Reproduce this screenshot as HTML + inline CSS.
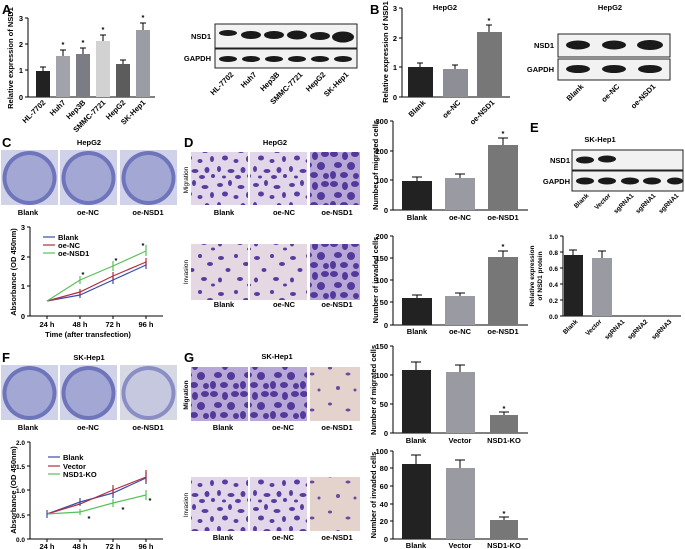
<!DOCTYPE html>
<html><head><meta charset="utf-8"><style>
body{margin:0;background:#fff}
svg{display:block;font-family:"Liberation Sans",sans-serif;font-weight:bold}
.t{font-size:7.5px}
.s{font-size:6.5px}
.L{font-size:13px;font-weight:bold}
.ax{stroke:#000;stroke-width:1;fill:none}
</style></head><body>
<svg width="685" height="549" viewBox="0 0 685 549" xmlns="http://www.w3.org/2000/svg">
<defs>
<pattern id="mig" width="36" height="36" patternUnits="userSpaceOnUse">
<rect width="36" height="36" fill="#e2d6ea"/>
<g fill="#5a3c9e">
<ellipse cx="4" cy="5" rx="3" ry="2"/><ellipse cx="14" cy="3" rx="2" ry="3"/><ellipse cx="25" cy="7" rx="3.5" ry="2"/>
<ellipse cx="32" cy="15" rx="2" ry="3"/><ellipse cx="9" cy="14" rx="3" ry="2.5"/><ellipse cx="20" cy="17" rx="2.5" ry="2"/>
<ellipse cx="3" cy="25" rx="2" ry="3"/><ellipse cx="15" cy="27" rx="3.5" ry="2"/><ellipse cx="27" cy="26" rx="2.5" ry="3"/>
<ellipse cx="8" cy="33" rx="2" ry="1.5"/><ellipse cx="22" cy="33" rx="3" ry="2"/><ellipse cx="33" cy="32" rx="2" ry="2"/>
</g></pattern>
<pattern id="dense" width="30" height="30" patternUnits="userSpaceOnUse">
<rect width="30" height="30" fill="#b8a8d8"/>
<g fill="#54389a">
<ellipse cx="4" cy="4" rx="4" ry="3"/><ellipse cx="15" cy="6" rx="3" ry="4"/><ellipse cx="25" cy="4" rx="4" ry="3"/>
<ellipse cx="8" cy="15" rx="4" ry="3"/><ellipse cx="21" cy="16" rx="4" ry="4"/><ellipse cx="3" cy="25" rx="3" ry="4"/>
<ellipse cx="14" cy="25" rx="4" ry="3"/><ellipse cx="26" cy="26" rx="3" ry="3"/>
</g></pattern>
<pattern id="inv" width="36" height="36" patternUnits="userSpaceOnUse">
<rect width="36" height="36" fill="#e6d8e2"/>
<g fill="#5a3c9e">
<ellipse cx="5" cy="6" rx="3" ry="2"/><ellipse cx="20" cy="4" rx="2" ry="2"/><ellipse cx="30" cy="12" rx="3" ry="2"/>
<ellipse cx="12" cy="18" rx="2.5" ry="2"/><ellipse cx="4" cy="28" rx="2" ry="2.5"/><ellipse cx="24" cy="27" rx="3" ry="2"/>
<ellipse cx="33" cy="33" rx="2" ry="1.5"/>
</g></pattern>
<pattern id="sparse" width="36" height="36" patternUnits="userSpaceOnUse">
<rect width="36" height="36" fill="#e4d2cc"/>
<g fill="#6a4aa0">
<ellipse cx="6" cy="8" rx="2" ry="1.5"/><ellipse cx="24" cy="14" rx="2.5" ry="1.5"/><ellipse cx="14" cy="28" rx="2" ry="2"/><ellipse cx="31" cy="30" rx="1.5" ry="1.5"/>
</g></pattern>
<g id="well"><rect width="57" height="55" fill="#cfd2e8"/><circle cx="28.5" cy="28" r="27" fill="#6f75bb"/><circle cx="28.5" cy="28" r="23" fill="#a3a7d4"/></g>
<g id="wellw"><rect width="57" height="55" fill="#d6d8e4"/><circle cx="28.5" cy="28" r="27" fill="#8a8ec4"/><circle cx="28.5" cy="28" r="23" fill="#c6c8e0"/></g>
</defs>

<!-- Panel A -->
<text x="2" y="14" class="L">A</text>
<text transform="translate(13,58) rotate(-90)" class="t" text-anchor="middle">Relative expression of NSD1</text>
<path class="ax" d="M28,18V97H155M25,18H28M25,44H28M25,70H28M25,97H28"/>
<g class="t" text-anchor="end"><text x="23" y="21">3</text><text x="23" y="47">2</text><text x="23" y="73">1</text><text x="23" y="100">0</text></g>
<rect x="36" y="71" width="14" height="26" fill="#222"/>
<rect x="56" y="56" width="14" height="41" fill="#a2a2aa"/>
<rect x="76" y="54" width="14" height="43" fill="#7c7c84"/>
<rect x="96" y="41" width="14" height="56" fill="#d2d2d2"/>
<rect x="116" y="64" width="14" height="33" fill="#5c5c5c"/>
<rect x="136" y="30" width="14" height="67" fill="#9c9ca4"/>
<path class="ax" d="M43,71V67M40,67H46M63,56V50M60,50H66M83,54V48M80,48H86M103,41V35M100,35H106M123,64V60M120,60H126M143,30V23M140,23H146"/>
<g class="t" text-anchor="middle"><text x="63" y="47">*</text><text x="83" y="45">*</text><text x="103" y="32">*</text><text x="143" y="20">*</text></g>
<g class="t" text-anchor="end">
<text transform="translate(46,103) rotate(-45)">HL-7702</text>
<text transform="translate(66,103) rotate(-45)">Huh7</text>
<text transform="translate(86,103) rotate(-45)">Hep3B</text>
<text transform="translate(106,103) rotate(-45)">SMMC-7721</text>
<text transform="translate(126,103) rotate(-45)">HepG2</text>
<text transform="translate(146,103) rotate(-45)">SK-Hep1</text>
</g>
<!-- A blot -->
<rect x="215" y="24" width="142" height="24" fill="#f2f2f2" stroke="#222"/>
<rect x="215" y="49" width="142" height="19" fill="#f2f2f2" stroke="#222"/>
<text x="211" y="39" class="t" text-anchor="end">NSD1</text>
<text x="211" y="61" class="t" text-anchor="end">GAPDH</text>
<g fill="#1a1a1a">
<ellipse cx="228" cy="33" rx="9" ry="3"/><ellipse cx="251" cy="35" rx="10" ry="4"/><ellipse cx="274" cy="35" rx="10" ry="4"/><ellipse cx="297" cy="35" rx="10" ry="4.5"/><ellipse cx="320" cy="36" rx="10" ry="4"/><ellipse cx="343" cy="37" rx="11" ry="5.5"/>
<ellipse cx="228" cy="59" rx="9" ry="3"/><ellipse cx="251" cy="59" rx="9" ry="3"/><ellipse cx="274" cy="59" rx="9" ry="3"/><ellipse cx="297" cy="59" rx="9" ry="3"/><ellipse cx="320" cy="59" rx="9" ry="3"/><ellipse cx="343" cy="59" rx="9" ry="3"/>
</g>
<g class="t" text-anchor="end">
<text transform="translate(234,75) rotate(-45)">HL-7702</text>
<text transform="translate(257,75) rotate(-45)">Huh7</text>
<text transform="translate(280,75) rotate(-45)">Hep3B</text>
<text transform="translate(303,75) rotate(-45)">SMMC-7721</text>
<text transform="translate(326,75) rotate(-45)">HepG2</text>
<text transform="translate(349,75) rotate(-45)">SK-Hep1</text>
</g>

<!-- Panel B -->
<text x="370" y="14" class="L">B</text>
<text x="445" y="10" class="t" text-anchor="middle">HepG2</text>
<text transform="translate(388,52) rotate(-90)" class="t" text-anchor="middle">Relative expression of NSD1</text>
<path class="ax" d="M402,8V97H510M399,8H402M399,38H402M399,67H402M399,97H402"/>
<g class="t" text-anchor="end"><text x="397" y="11">3</text><text x="397" y="41">2</text><text x="397" y="70">1</text><text x="397" y="100">0</text></g>
<rect x="408" y="67" width="25" height="30" fill="#222"/>
<rect x="443" y="69" width="25" height="28" fill="#8e8e96"/>
<rect x="477" y="32" width="25" height="65" fill="#777"/>
<path class="ax" d="M420,67V63M417,63H423M455,69V65M452,65H458M489,32V25M486,25H492"/>
<text x="489" y="23" class="t" text-anchor="middle">*</text>
<g class="t" text-anchor="end">
<text transform="translate(426,103) rotate(-45)">Blank</text>
<text transform="translate(461,103) rotate(-45)">oe-NC</text>
<text transform="translate(495,103) rotate(-45)">oe-NSD1</text>
</g>
<text x="610" y="10" class="t" text-anchor="middle">HepG2</text>
<rect x="558" y="34" width="112" height="23" fill="#f2f2f2" stroke="#222"/>
<rect x="558" y="59" width="112" height="21" fill="#f2f2f2" stroke="#222"/>
<text x="554" y="48" class="t" text-anchor="end">NSD1</text>
<text x="554" y="72" class="t" text-anchor="end">GAPDH</text>
<g fill="#1a1a1a">
<ellipse cx="578" cy="45" rx="12" ry="4.5"/><ellipse cx="614" cy="45" rx="12" ry="4.5"/><ellipse cx="650" cy="45" rx="13" ry="5"/>
<ellipse cx="578" cy="69" rx="12" ry="4"/><ellipse cx="614" cy="69" rx="12" ry="4"/><ellipse cx="650" cy="69" rx="12" ry="4"/>
</g>
<g class="t" text-anchor="end">
<text transform="translate(584,87) rotate(-45)">Blank</text>
<text transform="translate(620,87) rotate(-45)">oe-NC</text>
<text transform="translate(656,87) rotate(-45)">oe-NSD1</text>
</g>

<!-- Panel C -->
<text x="2" y="147" class="L">C</text>
<text x="89" y="145" class="t" text-anchor="middle">HepG2</text>
<use href="#well" x="1" y="150"/><use href="#well" x="60" y="150"/><use href="#well" x="120" y="150"/>
<g class="t" text-anchor="middle"><text x="28" y="215">Blank</text><text x="88" y="215">oe-NC</text><text x="148" y="215">oe-NSD1</text></g>
<text transform="translate(16,272) rotate(-90)" class="t" text-anchor="middle">Absorbance (OD 450nm)</text>
<path class="ax" d="M30,227V316H163M27,227H30M27,257H30M27,286H30M27,316H30M47,316V319M80,316V319M113,316V319M146,316V319"/>
<g class="t" text-anchor="end"><text x="25" y="230">3</text><text x="25" y="260">2</text><text x="25" y="289">1</text><text x="25" y="319">0</text></g>
<g class="t" text-anchor="middle"><text x="47" y="327">24 h</text><text x="80" y="327">48 h</text><text x="113" y="327">72 h</text><text x="146" y="327">96 h</text><text x="88" y="337">Time (after transfection)</text></g>
<g stroke-width="1.2" fill="none">
<polyline points="47,301 80,295 113,280 146,265" stroke="#3a4ea8"/>
<polyline points="47,301 80,292 113,276 146,262" stroke="#b03040"/>
<polyline points="47,301 80,280 113,266 146,251" stroke="#58c058"/>
<path d="M80,292V298M113,276V284M146,261V269" stroke="#3a4ea8"/>
<path d="M80,289V295M113,272V280M146,258V266" stroke="#b03040"/>
<path d="M80,276V284M113,261V271M146,245V256" stroke="#58c058"/>
</g>
<g class="t" text-anchor="middle"><text x="83" y="277">*</text><text x="116" y="263">*</text><text x="143" y="248">*</text></g>
<line x1="43" y1="237" x2="55" y2="237" stroke="#3a4ea8" stroke-width="1.2"/>
<line x1="43" y1="245" x2="55" y2="245" stroke="#b03040" stroke-width="1.2"/>
<line x1="43" y1="253" x2="55" y2="253" stroke="#58c058" stroke-width="1.2"/>
<g class="t"><text x="58" y="240">Blank</text><text x="58" y="248">oe-NC</text><text x="58" y="256">oe-NSD1</text></g>

<!-- Panel D -->
<text x="184" y="147" class="L">D</text>
<text x="275" y="145" class="t" text-anchor="middle">HepG2</text>
<text transform="translate(188,180) rotate(-90)" class="s" text-anchor="middle" font-weight="normal">Migration</text>
<text transform="translate(188,272) rotate(-90)" class="s" text-anchor="middle" font-weight="normal">Invasion</text>
<rect x="191" y="152" width="57" height="53" fill="url(#mig)"/>
<rect x="250" y="152" width="57" height="53" fill="url(#mig)"/>
<rect x="310" y="152" width="50" height="53" fill="url(#dense)"/>
<rect x="191" y="244" width="57" height="56" fill="url(#inv)"/>
<rect x="250" y="244" width="57" height="56" fill="url(#inv)"/>
<rect x="310" y="244" width="50" height="56" fill="url(#dense)"/>
<g class="t" text-anchor="middle"><text x="224" y="215">Blank</text><text x="284" y="215">oe-NC</text><text x="337" y="215">oe-NSD1</text>
<text x="224" y="307">Blank</text><text x="284" y="307">oe-NC</text><text x="337" y="307">oe-NSD1</text></g>

<text transform="translate(378,165) rotate(-90)" class="t" text-anchor="middle">Number of migrated cells</text>
<path class="ax" d="M393,121V210H528M390,121H393M390,151H393M390,180H393M390,210H393"/>
<g class="t" text-anchor="end"><text x="388" y="124">300</text><text x="388" y="154">200</text><text x="388" y="183">100</text><text x="388" y="213">0</text></g>
<rect x="402" y="181" width="30" height="29" fill="#222"/>
<rect x="445" y="178" width="30" height="32" fill="#9a9aa2"/>
<rect x="488" y="145" width="30" height="65" fill="#777"/>
<path class="ax" d="M417,181V177M412,177H422M460,178V174M455,174H465M503,145V138M498,138H508"/>
<text x="503" y="136" class="t" text-anchor="middle">*</text>
<g class="t" text-anchor="middle"><text x="417" y="220">Blank</text><text x="460" y="220">oe-NC</text><text x="503" y="220">oe-NSD1</text></g>

<text transform="translate(378,280) rotate(-90)" class="t" text-anchor="middle">Number of invaded cells</text>
<path class="ax" d="M393,236V325H528M390,236H393M390,258H393M390,280H393M390,302H393M390,325H393"/>
<g class="t" text-anchor="end"><text x="388" y="239">200</text><text x="388" y="261">150</text><text x="388" y="283">100</text><text x="388" y="305">50</text><text x="388" y="328">0</text></g>
<rect x="402" y="298" width="30" height="27" fill="#222"/>
<rect x="445" y="296" width="30" height="29" fill="#9a9aa2"/>
<rect x="488" y="257" width="30" height="68" fill="#777"/>
<path class="ax" d="M417,298V295M412,295H422M460,296V293M455,293H465M503,257V251M498,251H508"/>
<text x="503" y="249" class="t" text-anchor="middle">*</text>
<g class="t" text-anchor="middle"><text x="417" y="334">Blank</text><text x="460" y="334">oe-NC</text><text x="503" y="334">oe-NSD1</text></g>

<!-- Panel E -->
<text x="530" y="132" class="L">E</text>
<text x="600" y="142" class="t" text-anchor="middle">SK-Hep1</text>
<rect x="572" y="150" width="111" height="20" fill="#f2f2f2" stroke="#222"/>
<rect x="572" y="171" width="111" height="20" fill="#f2f2f2" stroke="#222"/>
<text x="570" y="163" class="t" text-anchor="end">NSD1</text>
<text x="570" y="184" class="t" text-anchor="end">GAPDH</text>
<g fill="#1a1a1a">
<ellipse cx="585" cy="160" rx="9" ry="3.5"/><ellipse cx="607" cy="159" rx="9" ry="3.5"/>
<ellipse cx="585" cy="181" rx="9" ry="3.5"/><ellipse cx="607" cy="181" rx="9" ry="3.5"/><ellipse cx="630" cy="181" rx="9" ry="3.5"/><ellipse cx="652" cy="181" rx="9" ry="3.5"/><ellipse cx="675" cy="181" rx="8" ry="3.5"/>
</g>
<g class="s" text-anchor="end">
<text transform="translate(589,196) rotate(-45)">Blank</text>
<text transform="translate(611,196) rotate(-45)">Vector</text>
<text transform="translate(634,196) rotate(-45)">sgRNA1</text>
<text transform="translate(656,196) rotate(-45)">sgRNA1</text>
<text transform="translate(679,196) rotate(-45)">sgRNA1</text>
</g>
<text transform="translate(534,276) rotate(-90)" class="s" text-anchor="middle">Relative expression</text>
<text transform="translate(542,276) rotate(-90)" class="s" text-anchor="middle">of NSD1 protein</text>
<path class="ax" d="M563,236V316H681M560,236H563M560,252H563M560,268H563M560,284H563M560,300H563M560,316H563"/>
<g class="s" text-anchor="end"><text x="558" y="239">1.0</text><text x="558" y="255">0.8</text><text x="558" y="271">0.6</text><text x="558" y="287">0.4</text><text x="558" y="303">0.2</text><text x="558" y="319">0.0</text></g>
<rect x="564" y="255" width="19" height="61" fill="#222"/>
<rect x="592" y="258" width="20" height="58" fill="#9a9aa2"/>
<path class="ax" d="M573,255V250M569,250H577M602,258V251M598,251H606"/>
<g class="s" text-anchor="end">
<text transform="translate(578,322) rotate(-45)">Blank</text>
<text transform="translate(602,322) rotate(-45)">Vector</text>
<text transform="translate(625,322) rotate(-45)">sgRNA1</text>
<text transform="translate(648,322) rotate(-45)">sgRNA2</text>
<text transform="translate(672,322) rotate(-45)">sgRNA3</text>
</g>

<!-- Panel F -->
<text x="2" y="362" class="L">F</text>
<text x="89" y="360" class="t" text-anchor="middle">SK-Hep1</text>
<use href="#well" x="1" y="365"/><use href="#well" x="60" y="365"/><use href="#wellw" x="120" y="365"/>
<g class="t" text-anchor="middle"><text x="28" y="430">Blank</text><text x="88" y="430">oe-NC</text><text x="148" y="430">oe-NSD1</text></g>
<text transform="translate(16,490) rotate(-90)" class="t" text-anchor="middle">Absorbance (OD 450nm)</text>
<path class="ax" d="M30,442V539H163M27,442H30M27,466H30M27,490H30M27,515H30M27,539H30M47,539V542M80,539V542M113,539V542M146,539V542"/>
<g class="s" text-anchor="end"><text x="25" y="445">2.0</text><text x="25" y="469">1.5</text><text x="25" y="493">1.0</text><text x="25" y="518">0.5</text><text x="25" y="542">0.0</text></g>
<g class="t" text-anchor="middle"><text x="47" y="549">24 h</text><text x="80" y="549">48 h</text><text x="113" y="549">72 h</text><text x="146" y="549">96 h</text></g>
<g stroke-width="1.2" fill="none">
<polyline points="47,514 80,502 113,493 146,478" stroke="#3a4ea8"/>
<polyline points="47,514 80,504 113,490 146,477" stroke="#b03040"/>
<polyline points="47,514 80,512 113,503 146,495" stroke="#58c058"/>
<path d="M47,510V518M80,498V506M113,488V498M146,472V484" stroke="#3a4ea8"/>
<path d="M113,485V495M146,470V482" stroke="#b03040"/>
<path d="M80,509V515M113,499V507M146,490V500" stroke="#58c058"/>
</g>
<g class="t" text-anchor="middle"><text x="89" y="521">*</text><text x="123" y="512">*</text><text x="150" y="503">*</text></g>
<line x1="48" y1="457" x2="60" y2="457" stroke="#3a4ea8" stroke-width="1.2"/>
<line x1="48" y1="466" x2="60" y2="466" stroke="#b03040" stroke-width="1.2"/>
<line x1="48" y1="474" x2="60" y2="474" stroke="#58c058" stroke-width="1.2"/>
<g class="t"><text x="63" y="460">Blank</text><text x="63" y="469">Vector</text><text x="63" y="477">NSD1-KO</text></g>

<!-- Panel G -->
<text x="184" y="362" class="L">G</text>
<text x="277" y="359" class="t" text-anchor="middle">SK-Hep1</text>
<text transform="translate(188,395) rotate(-90)" class="s" text-anchor="middle">Migration</text>
<text transform="translate(188,505) rotate(-90)" class="s" text-anchor="middle" font-weight="normal">Invasion</text>
<rect x="191" y="367" width="57" height="54" fill="url(#dense)"/>
<rect x="250" y="367" width="57" height="54" fill="url(#dense)"/>
<rect x="310" y="367" width="50" height="54" fill="url(#sparse)"/>
<rect x="191" y="477" width="57" height="54" fill="url(#mig)"/>
<rect x="250" y="477" width="57" height="54" fill="url(#mig)"/>
<rect x="310" y="477" width="50" height="54" fill="url(#sparse)"/>
<g class="t" text-anchor="middle"><text x="223" y="430">Blank</text><text x="283" y="430">oe-NC</text><text x="337" y="430">oe-NSD1</text>
<text x="223" y="540">Blank</text><text x="283" y="540">oe-NC</text><text x="337" y="540">oe-NSD1</text></g>

<text transform="translate(376,390) rotate(-90)" class="t" text-anchor="middle">Number of migrated cells</text>
<path class="ax" d="M393,346V433H528M390,346H393M390,375H393M390,404H393M390,433H393"/>
<g class="t" text-anchor="end"><text x="388" y="349">150</text><text x="388" y="378">100</text><text x="388" y="407">50</text><text x="388" y="436">0</text></g>
<rect x="402" y="370" width="29" height="63" fill="#222"/>
<rect x="446" y="372" width="29" height="61" fill="#9a9aa2"/>
<rect x="490" y="415" width="28" height="18" fill="#777"/>
<path class="ax" d="M416,370V362M411,362H421M460,372V365M455,365H465M504,415V412M499,412H509"/>
<text x="504" y="411" class="t" text-anchor="middle">*</text>
<g class="t" text-anchor="middle"><text x="416" y="443">Blank</text><text x="460" y="443">Vector</text><text x="504" y="443">NSD1-KO</text></g>

<text transform="translate(376,495) rotate(-90)" class="t" text-anchor="middle">Number of invaded cells</text>
<path class="ax" d="M393,451V539H528M390,451H393M390,468H393M390,486H393M390,504H393M390,521H393M390,539H393"/>
<g class="t" text-anchor="end"><text x="388" y="454">100</text><text x="388" y="471">80</text><text x="388" y="489">60</text><text x="388" y="507">40</text><text x="388" y="524">20</text><text x="388" y="542">0</text></g>
<rect x="402" y="464" width="29" height="75" fill="#222"/>
<rect x="446" y="468" width="29" height="71" fill="#9a9aa2"/>
<rect x="490" y="520" width="28" height="19" fill="#777"/>
<path class="ax" d="M416,464V455M411,455H421M460,468V460M455,460H465M504,520V517M499,517H509"/>
<text x="504" y="516" class="t" text-anchor="middle">*</text>
<g class="t" text-anchor="middle"><text x="416" y="548">Blank</text><text x="460" y="548">Vector</text><text x="504" y="548">NSD1-KO</text></g>
</svg>
</body></html>
